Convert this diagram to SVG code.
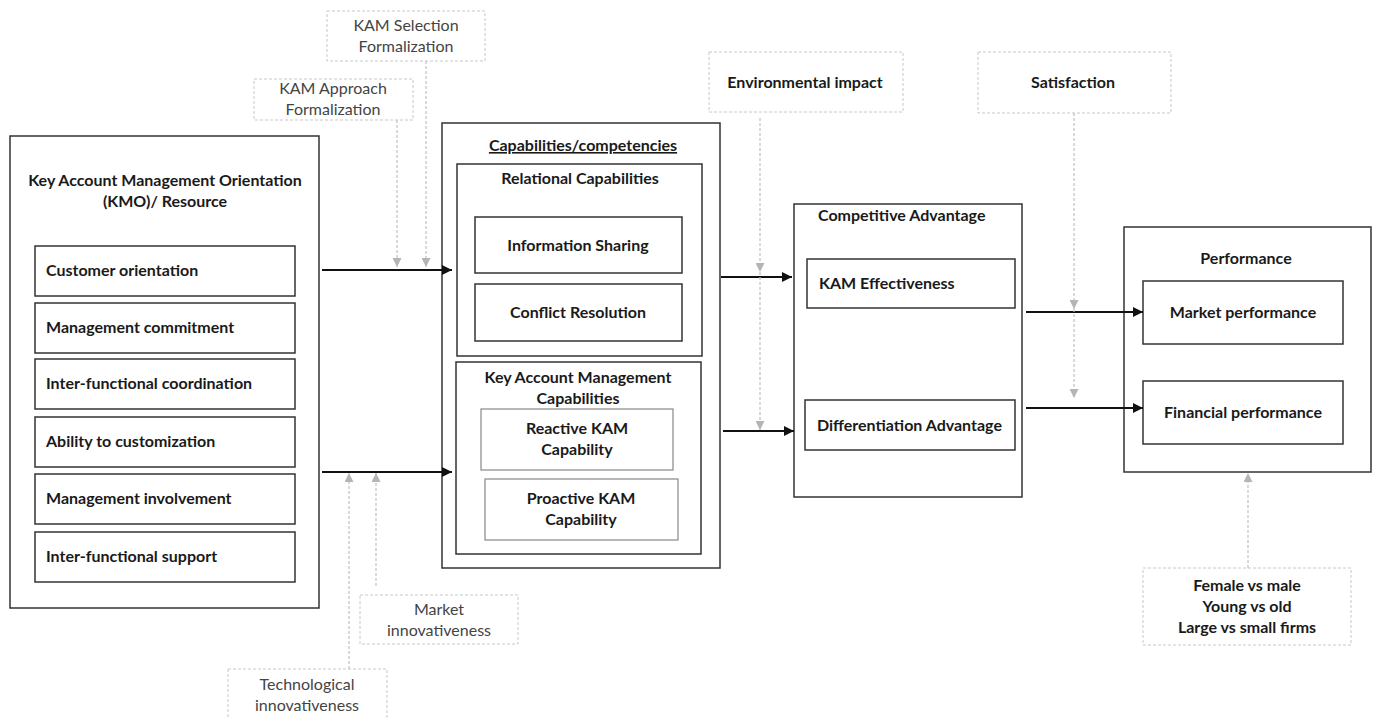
<svg xmlns="http://www.w3.org/2000/svg" width="1378" height="718" viewBox="0 0 1378 718">
<defs>
<marker id="ab" viewBox="0 0 10 10" refX="10" refY="5" markerWidth="10" markerHeight="10" markerUnits="userSpaceOnUse" orient="auto"><path d="M0,0 L10,5 L0,10 z" fill="#111"/></marker>
<marker id="ag" viewBox="0 0 10 10" refX="10" refY="5" markerWidth="9" markerHeight="9" markerUnits="userSpaceOnUse" orient="auto"><path d="M0,0 L10,5 L0,10 z" fill="#b5b5b5"/></marker>
</defs>
<style>
.b{fill:#fff;stroke:#333;stroke-width:1.5}
.bg{fill:#fff;stroke:#888;stroke-width:1.2}
.d{fill:#fff;stroke:#c8c8c8;stroke-width:1;stroke-dasharray:3,2}
text{font-family:Lato,"Open Sans",sans-serif;font-size:16px;fill:#1a1a1a}
.t{font-weight:bold}
.m{text-anchor:middle}
.r{fill:#444}
.c{stroke:#111;stroke-width:1.8;fill:none}
.g{stroke:#c0c0c0;stroke-width:1.2;stroke-dasharray:3,2;fill:none}
</style>
<rect width="1378" height="718" fill="#fff"/>
<g id="kmo">
<rect class="b" x="10" y="136" width="309" height="472"/>
<text class="t m" x="165" y="186">Key Account  Management Orientation</text>
<text class="t m" x="165" y="207">(KMO)/ Resource</text>
</g>
<g id="customer-orientation"><rect class="b" x="35" y="246" width="260" height="50"/><text class="t" x="46" y="276">Customer orientation</text></g>
<g id="management-commitment"><rect class="b" x="35" y="303" width="260" height="50"/><text class="t" x="46" y="333">Management commitment</text></g>
<g id="inter-functional-coordination"><rect class="b" x="35" y="359" width="260" height="50"/><text class="t" x="46" y="389">Inter-functional coordination</text></g>
<g id="ability-to-customization"><rect class="b" x="35" y="417" width="260" height="50"/><text class="t" x="46" y="447">Ability to customization</text></g>
<g id="management-involvement"><rect class="b" x="35" y="474" width="260" height="50"/><text class="t" x="46" y="504">Management involvement</text></g>
<g id="inter-functional-support"><rect class="b" x="35" y="532" width="260" height="50"/><text class="t" x="46" y="562">Inter-functional support</text></g>
<g id="capabilities">
<rect class="b" x="442" y="123" width="278" height="445"/>
<text class="t m" x="583" y="151" text-decoration="underline">Capabilities/competencies</text>
</g>
<g id="relational-capabilities">
<rect class="b" x="457" y="164" width="245" height="192"/>
<text class="t m" x="580" y="184">Relational Capabilities</text>
</g>
<g id="information-sharing"><rect class="b" x="475" y="217" width="207" height="56"/><text class="t m" x="578" y="251">Information Sharing</text></g>
<g id="conflict-resolution"><rect class="b" x="475" y="284" width="207" height="57"/><text class="t m" x="578" y="318">Conflict Resolution</text></g>
<g id="kam-capabilities">
<rect class="b" x="456" y="362" width="245" height="192"/>
<text class="t m" x="578" y="383">Key Account  Management</text>
<text class="t m" x="578" y="404">Capabilities</text>
</g>
<g id="reactive-kam"><rect class="bg" x="481" y="409" width="192" height="61"/><text class="t m" x="577" y="434">Reactive KAM</text><text class="t m" x="577" y="455">Capability</text></g>
<g id="proactive-kam"><rect class="bg" x="485" y="479" width="193" height="61"/><text class="t m" x="581" y="504">Proactive KAM</text><text class="t m" x="581" y="525">Capability</text></g>
<g id="competitive-advantage">
<rect class="b" x="794" y="204" width="228" height="293"/>
<text class="t" x="818" y="221">Competitive Advantage</text>
</g>
<g id="kam-effectiveness"><rect class="b" x="807" y="259" width="208" height="49"/><text class="t" x="819" y="289">KAM Effectiveness</text></g>
<g id="differentiation-advantage"><rect class="b" x="805" y="400" width="210" height="50"/><text class="t" x="817" y="431">Differentiation Advantage</text></g>
<g id="performance">
<rect class="b" x="1124" y="227" width="247" height="245"/>
<text class="t m" x="1246" y="264">Performance</text>
</g>
<g id="market-performance"><rect class="b" x="1143" y="281" width="200" height="63"/><text class="t m" x="1243" y="318">Market performance</text></g>
<g id="financial-performance"><rect class="b" x="1143" y="381" width="200" height="63"/><text class="t m" x="1243" y="418">Financial  performance</text></g>
<g id="kam-selection"><rect class="d" x="327" y="11" width="158" height="50"/><text class="m r" x="406" y="31">KAM Selection</text><text class="m r" x="406" y="52">Formalization</text></g>
<g id="kam-approach"><rect class="d" x="254" y="79" width="159" height="41"/><text class="m r" x="333" y="94">KAM Approach</text><text class="m r" x="333" y="115">Formalization</text></g>
<g id="environmental-impact"><rect class="d" x="709" y="52" width="194" height="60"/><text class="t m" x="805" y="88">Environmental impact</text></g>
<g id="satisfaction"><rect class="d" x="978" y="52" width="193" height="61"/><text class="t m" x="1073" y="88">Satisfaction</text></g>
<g id="market-innovativeness"><rect class="d" x="360" y="595" width="158" height="49"/><text class="m r" x="439" y="615">Market</text><text class="m r" x="439" y="636">innovativeness</text></g>
<g id="technological-innovativeness"><rect class="d" x="228" y="669" width="159" height="55"/><text class="m r" x="307" y="690">Technological</text><text class="m r" x="307" y="711">innovativeness</text></g>
<g id="moderators"><rect class="d" x="1143" y="568" width="208" height="77"/><text class="t m" x="1247" y="591">Female vs male</text><text class="t m" x="1247" y="612">Young vs old</text><text class="t m" x="1247" y="633">Large vs small firms</text></g>
<g id="connectors">
<path class="c" d="M322,270 H452" marker-end="url(#ab)"/>
<path class="c" d="M322,472 H452" marker-end="url(#ab)"/>
<path class="c" d="M721,277 H792" marker-end="url(#ab)"/>
<path class="c" d="M723,431 H794" marker-end="url(#ab)"/>
<path class="c" d="M1026,312 H1143" marker-end="url(#ab)"/>
<path class="c" d="M1026,408 H1143" marker-end="url(#ab)"/>
<path class="g" d="M397,120 V267" marker-end="url(#ag)"/>
<path class="g" d="M426,61 V267" marker-end="url(#ag)"/>
<path class="g" d="M760,118 V272" marker-end="url(#ag)"/>
<path class="g" d="M760,272 V430" marker-end="url(#ag)"/>
<path class="g" d="M1074,113 V309" marker-end="url(#ag)"/>
<path class="g" d="M1074,309 V398" marker-end="url(#ag)"/>
<path class="g" d="M1248,568 V473" marker-end="url(#ag)"/>
<path class="g" d="M376,586 V473" marker-end="url(#ag)"/>
<path class="g" d="M349,669 V473" marker-end="url(#ag)"/>
</g>
</svg>
